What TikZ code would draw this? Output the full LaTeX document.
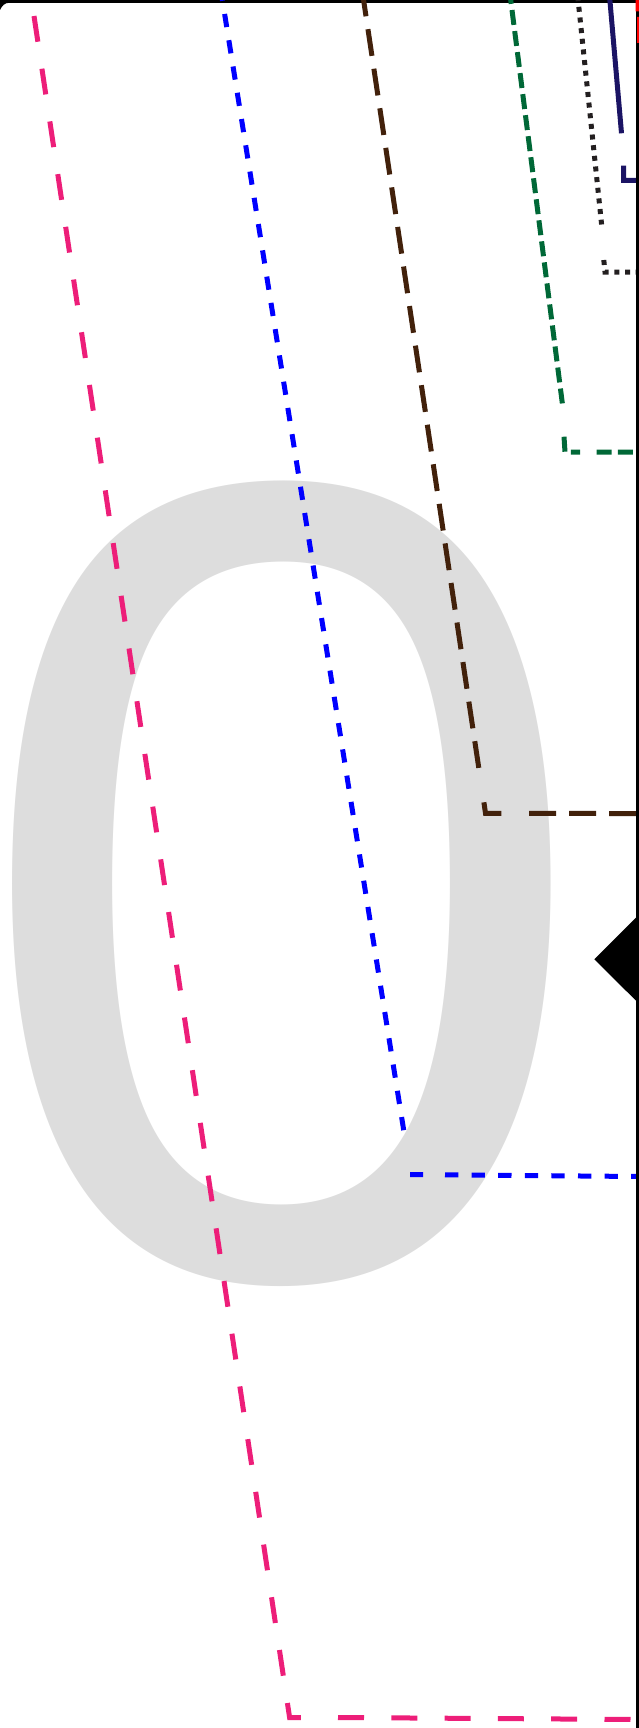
\documentclass[tikz,border=0pt]{standalone}
\usepackage{fontspec}
\newfontfamily\digitfont{Liberation Sans}
\definecolor{zerogray}{RGB}{221,221,221}
\definecolor{cpink}{RGB}{237,30,121}
\definecolor{cblue}{RGB}{0,0,255}
\definecolor{cbrown}{RGB}{66,33,11}
\definecolor{cgreen}{RGB}{0,104,55}
\definecolor{cnavy}{RGB}{27,20,100}
\definecolor{cdot}{RGB}{35,31,32}
\definecolor{cred}{RGB}{255,0,0}
\begin{document}
\begin{tikzpicture}[x=1pt,y=-1pt,line width=5pt,
	pinkdash/.style={draw=cpink,dash pattern=on 26pt off 27.3pt},
	bluedash/.style={draw=cblue,dash pattern=on 13.3pt off 13.3pt},
	browndash/.style={draw=cbrown,dash pattern=on 27pt off 13pt},
	greendash/.style={draw=cgreen,dash pattern=on 15pt off 6.2pt},
	navyline/.style={draw=cnavy},
	dotline/.style={draw=cdot,dash pattern=on 5pt off 5.7pt},
	digit/.style={inner sep=0pt,text=zerogray,font=\digitfont\fontsize{1138}{1138}\selectfont}]
	\useasboundingbox (0,0) rectangle (639,1728);
	\clip (0,0) rectangle (639,1728);
	\node[digit] (zero) at (282,883.5) {\scalebox{0.99}[1]{0}};
	\fill (0,10) .. controls (2,5.5) and (5,2.8) .. (9,2.8) -- (639,2.8) -- (639,0) -- (0,0) -- cycle;
	\path
	(34,16) coordinate (pinkA) (283.5,1677) coordinate (pinkB) (287.4,1703) coordinate (pinkC)
	(289.6,1717.5) coordinate (pinkK) (303,1717.5) coordinate (pinkD) (338,1717.5) coordinate (pinkE) (639,1719.5) coordinate (pinkF)
	(220.4,-12.3) coordinate (blueA) (404,1132) coordinate (blueB)
	(410,1174.5) coordinate (blueK) (423,1174.5) coordinate (blueD) (445,1174.8) coordinate (blueE) (639,1176.5) coordinate (blueF)
	(362,-10.4) coordinate (brownA) (478.8,768) coordinate (brownB) (483.9,802.3) coordinate (brownC)
	(485.5,813.3) coordinate (brownK) (501.5,813.3) coordinate (brownD) (529,813.3) coordinate (brownE) (639,813.6) coordinate (brownF)
	(509.3,-11) coordinate (greenA) (562.8,407) coordinate (greenB) (564,436.7) coordinate (greenC)
	(565,452) coordinate (greenK) (580,452) coordinate (greenD) (596.7,452) coordinate (greenE) (639,452) coordinate (greenF)
	(609.6,-3) coordinate (navyA) (621.5,133.3) coordinate (navyB) (623.5,165.7) coordinate (navyC)
	(623.5,180.5) coordinate (navyK) (639,180.5) coordinate (navyD)
	(577.7,-3.8) coordinate (dotA) (601.6,224.5) coordinate (dotB) (603.8,260) coordinate (dotC)
	(605,272) coordinate (dotK) (639,272) coordinate (dotD)
	;
	\draw[pinkdash] (pinkA) -- (pinkB) (pinkC) -- (pinkK) -- (pinkD) (pinkE) -- (pinkF);
	\draw[bluedash] (blueA) -- (blueB) (blueK) -- (blueD) (blueE) -- (blueF);
	\draw[browndash] (brownA) -- (brownB) (brownC) -- (brownK) -- (brownD) (brownE) -- (brownF);
	\draw[greendash] (greenA) -- (greenB) (greenC) -- (greenK) -- (greenD) (greenE) -- (greenF);
	\draw[navyline] (navyA) -- (navyB) (navyC) -- (navyK) -- (navyD);
	\draw[dotline] (dotA) -- (dotB) (dotC) -- (dotK) -- (dotD);
	\fill (635.5,0) rectangle (639,1728);
	\fill[cred] (635.5,0) rectangle (639,11.5) (637,17) rectangle (639,43);
	\fill (637,916.7) -- (594.3,959.2) -- (637,1001.7) -- (679.7,959.2) -- cycle;
\end{tikzpicture}
\end{document}
